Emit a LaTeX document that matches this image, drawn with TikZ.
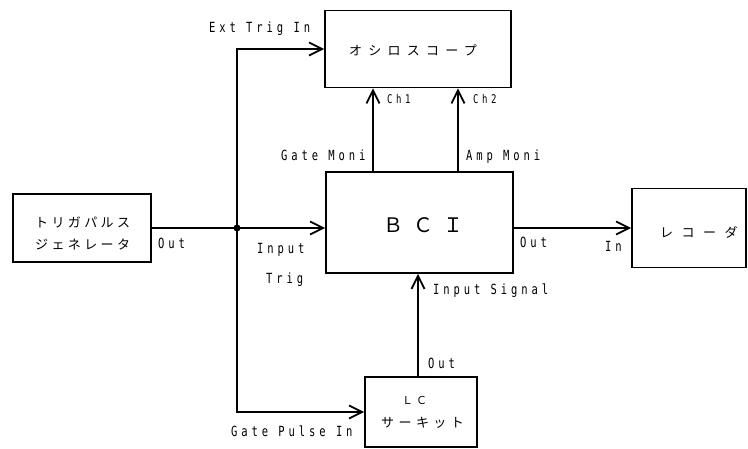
\documentclass[tikz,border=0pt]{standalone}
\usepackage{fontspec}
\usetikzlibrary{arrows.meta}
\newfontfamily\lat[FakeStretch=0.75,LetterSpace=28]{DejaVu Sans Mono}
\newfontfamily\latsm[FakeStretch=0.75,LetterSpace=30]{DejaVu Sans Mono}
\newfontfamily\jpf{Noto Sans CJK JP}
\begin{document}
\begin{tikzpicture}[x=1pt,y=-1pt,
  box/.style={draw, line width=1.8pt, rectangle, inner sep=0pt},
  wire/.style={line width=1.8pt},
  arr/.style={wire, -{Straight Barb[length=13pt,width=13pt,line width=1.8pt]}},
  lab/.style={anchor=base west, inner sep=0pt, font=\lat\fontsize{14}{14}\selectfont},
  labsm/.style={anchor=base west, inner sep=0pt, font=\latsm\fontsize{12}{12}\selectfont},
  jlab/.style={anchor=base west, inner sep=0pt, font=\jpf\fontsize{13}{13}\selectfont\addfontfeature{LetterSpace=#1}},
]
\useasboundingbox (0,0) rectangle (748,448);
% boxes
\node[box, minimum width=138pt, minimum height=68pt] (gen) at (82,228) {};
\node[box, minimum width=186pt, minimum height=77pt] (osc) at (418,49) {};
\node[box, minimum width=187pt, minimum height=101pt] (bci) at (419.5,222.5) {};
\node[box, minimum width=114pt, minimum height=79pt] (rec) at (689,228) {};
\node[box, minimum width=112pt, minimum height=70pt] (lc) at (421,412) {};
% box texts
\node[jlab=26] (gent1) at (35,227) {トリガパルス};
\node[jlab=26] (gent2) at (35,249) {ジェネレータ};
\node[jlab=48] (osct) at (349,55) {オシロスコープ};
\node[jlab=65] (rect) at (660,237) {レコーダ};
\node[jlab=34] (lct2) at (381,427) {サーキット};
\node[anchor=base west, inner sep=0pt, font=\jpf\fontsize{11}{11}\selectfont\addfontfeature{LetterSpace=27}] (lct1) at (402,404) {ＬＣ};
\node[anchor=base west, inner sep=0pt, font=\jpf\fontsize{20}{20}\selectfont\addfontfeature{LetterSpace=50}] (bcit) at (383,232) {ＢＣＩ};
% connectors
\coordinate (j) at (237,228);
\coordinate (c1) at (373,0);
\coordinate (c2) at (458,0);
\coordinate (si) at (418,0);
\draw[wire] (gen.east) -- (j);
\draw[arr] (j) -- (j -| bci.west);
\draw[arr] (j) |- (osc.west);
\draw[arr] (j) |- (lc.west);
\draw[arr] (c1 |- bci.north) -- (c1 |- osc.south);
\draw[arr] (c2 |- bci.north) -- (c2 |- osc.south);
\draw[arr] (bci.east |- j) -- (rec.west |- j);
\draw[arr] (si |- lc.north) -- (si |- bci.south);
\fill (j) circle (3.5pt);
% labels
\node[lab] (l1) at (209,32) {Ext Trig In};
\node[lab] (l2) at (281,160) {Gate Moni};
\node[lab] (l3) at (466,160) {Amp Moni};
\node[labsm] (l4) at (387,103) {Ch1};
\node[labsm] (l5) at (473,103) {Ch2};
\node[lab] (l6) at (158,248) {Out};
\node[lab] (l7) at (257,253) {Input};
\node[lab] (l8) at (266,283) {Trig};
\node[lab] (l9) at (520,247) {Out};
\node[lab] (l10) at (605,251) {In};
\node[lab] (l11) at (433,294) {Input Signal};
\node[lab] (l12) at (428,368) {Out};
\node[lab] (l13) at (231,436) {Gate Pulse In};
\end{tikzpicture}
\end{document}
